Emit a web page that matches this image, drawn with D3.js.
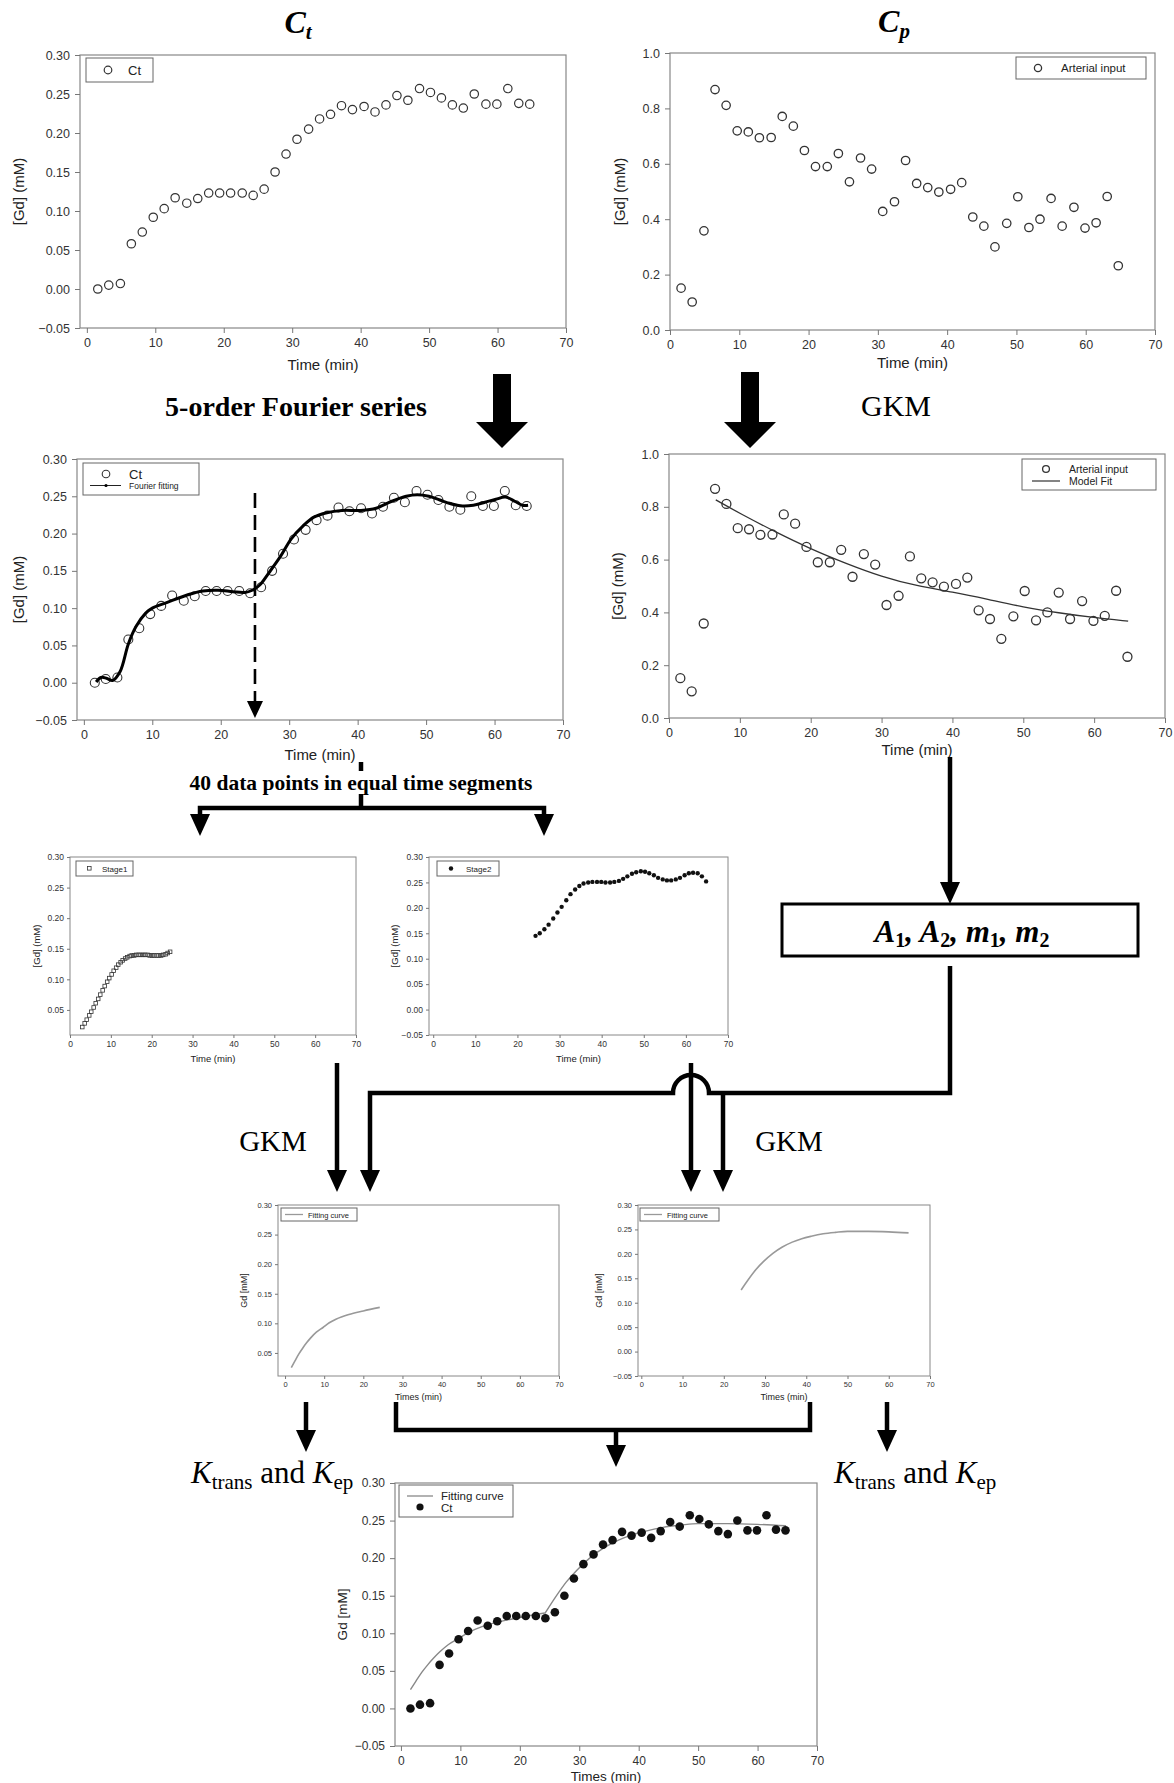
<!DOCTYPE html>
<html>
<head>
<meta charset="utf-8">
<title>Two-stage GKM fitting workflow</title>
<script src="https://d3js.org/d3.v7.min.js"></script>
<style>
  body { margin: 0; background: #fff; }
  svg text { font-family: "Liberation Sans", Arial, sans-serif; }
  svg .serif { font-family: "Liberation Serif", "Times New Roman", serif; }
</style>
</head>
<body>
<svg id="fig"></svg>
<script>
// ---- data ----
var timeMin = [1.6, 3.2, 4.9, 6.5, 8.1, 9.7, 11.3, 12.9, 14.6, 16.2, 17.8, 19.4, 21.0, 22.7, 24.3, 25.9, 27.5, 29.1, 30.7, 32.4,
               34.0, 35.6, 37.2, 38.8, 40.5, 42.1, 43.7, 45.3, 46.9, 48.6, 50.2, 51.8, 53.4, 55.0, 56.6, 58.3, 59.9, 61.5, 63.1, 64.7];
var ctVals = [0.000, 0.005, 0.007, 0.058, 0.073, 0.092, 0.103, 0.117, 0.110, 0.116, 0.123, 0.123, 0.123, 0.123, 0.120, 0.128, 0.150, 0.173, 0.192, 0.205,
              0.218, 0.224, 0.235, 0.230, 0.234, 0.227, 0.236, 0.248, 0.242, 0.257, 0.252, 0.245, 0.236, 0.232, 0.250, 0.237, 0.237, 0.257, 0.238, 0.237];
var cpVals = [0.151, 0.101, 0.358, 0.868, 0.811, 0.719, 0.715, 0.694, 0.695, 0.771, 0.736, 0.648, 0.590, 0.590, 0.637, 0.535, 0.621, 0.581, 0.428, 0.463,
              0.612, 0.529, 0.514, 0.498, 0.508, 0.532, 0.408, 0.375, 0.300, 0.385, 0.481, 0.370, 0.400, 0.475, 0.375, 0.443, 0.368, 0.387, 0.482, 0.232];

// 5-order Fourier fit of Ct
var fourierT = [1.8, 2.5, 3.3, 4.2, 5.3, 6.5, 7.6, 9.0, 10.0, 12.0, 15.2, 17.4, 19.6, 21.8, 23.5, 24.6, 25.7, 27.0, 28.7, 30.3,
                32.0, 33.6, 35.5, 37.7, 40.5, 42.7, 44.9, 47.1, 48.7, 50.4, 52.0, 53.6, 55.3, 56.9, 58.6, 60.2, 61.6, 63.0, 64.1, 64.9];
var fourierV = [0.001, 0.007, 0.006, 0.003, 0.015, 0.052, 0.075, 0.093, 0.100, 0.107, 0.118, 0.123, 0.124, 0.122, 0.121, 0.124, 0.131, 0.147, 0.169, 0.193,
                0.210, 0.222, 0.228, 0.231, 0.231, 0.234, 0.243, 0.250, 0.252, 0.250, 0.245, 0.240, 0.237, 0.238, 0.242, 0.246, 0.249, 0.243, 0.238, 0.238];

// model fit of arterial input
var modelT = [6.6, 10, 15, 20, 25, 30, 35, 40, 45, 50, 55, 60, 64.8];
var modelV = [0.826, 0.775, 0.705, 0.640, 0.585, 0.535, 0.500, 0.478, 0.450, 0.420, 0.398, 0.380, 0.367];

// 40 equally spaced samples of each stage
var stage1T = [3.0, 3.6, 4.1, 4.7, 5.2, 5.8, 6.3, 6.9, 7.4, 8.0, 8.5, 9.1, 9.6, 10.2, 10.7, 11.3, 11.8, 12.4, 12.9, 13.5,
               14.0, 14.6, 15.1, 15.7, 16.2, 16.8, 17.3, 17.9, 18.4, 19.0, 19.5, 20.1, 20.6, 21.2, 21.7, 22.3, 22.8, 23.4, 23.9, 24.5];
var stage1V = [0.022, 0.028, 0.034, 0.041, 0.047, 0.054, 0.061, 0.068, 0.075, 0.082, 0.089, 0.096, 0.102, 0.108, 0.114, 0.119, 0.124, 0.128, 0.131, 0.134,
               0.136, 0.138, 0.139, 0.139, 0.140, 0.140, 0.140, 0.140, 0.140, 0.140, 0.139, 0.139, 0.139, 0.139, 0.139, 0.139, 0.140, 0.141, 0.143, 0.145];
var stage2T = [24.3, 25.3, 26.4, 27.4, 28.5, 29.5, 30.5, 31.6, 32.6, 33.7, 34.7, 35.7, 36.8, 37.8, 38.9, 39.9, 40.9, 42.0, 43.0, 44.1,
               45.1, 46.1, 47.2, 48.2, 49.3, 50.3, 51.3, 52.4, 53.4, 54.5, 55.5, 56.5, 57.6, 58.6, 59.7, 60.7, 61.7, 62.8, 63.8, 64.8];
var stage2V = [0.145, 0.150, 0.158, 0.167, 0.179, 0.191, 0.202, 0.215, 0.227, 0.236, 0.243, 0.248, 0.250, 0.251, 0.251, 0.251, 0.250, 0.250, 0.251, 0.253,
               0.257, 0.262, 0.267, 0.270, 0.272, 0.271, 0.268, 0.264, 0.259, 0.256, 0.254, 0.254, 0.256, 0.259, 0.264, 0.268, 0.269, 0.268, 0.262, 0.252];

// GKM fitting curves of each stage
var fit1T = [1.6, 2.5, 3.5, 4.5, 5.5, 6.5, 8.0, 9.7, 11.3, 13.0, 16.3, 20.0, 24.2];
var fit1V = [0.025, 0.036, 0.048, 0.058, 0.067, 0.075, 0.085, 0.093, 0.101, 0.107, 0.115, 0.121, 0.127];
var fit2T = [24.2, 26.0, 27.8, 29.6, 31.9, 34.2, 36.6, 38.9, 41.2, 44.1, 47.1, 50.0, 55.0, 60.0, 64.8];
var fit2V = [0.126, 0.148, 0.168, 0.184, 0.201, 0.214, 0.224, 0.231, 0.236, 0.241, 0.244, 0.246, 0.246, 0.245, 0.243];

var timeTicks = [0, 10, 20, 30, 40, 50, 60, 70];
var gdTicks = [-0.05, 0.00, 0.05, 0.10, 0.15, 0.20, 0.25, 0.30];
var gdTicksPos = [0.05, 0.10, 0.15, 0.20, 0.25, 0.30];
var cpTicks = [0.0, 0.2, 0.4, 0.6, 0.8, 1.0];

var svg = d3.select("#fig").attr("width", 1174).attr("height", 1783);

function zip(t, v) { return t.map(function(d, i) { return { t: d, v: v[i] }; }); }

// one SigmaPlot-like panel
function panel(o) {
    var g = svg.append("g");
    var x = d3.scaleLinear().domain(o.xd).range([o.x0, o.x1]);
    var y = d3.scaleLinear().domain(o.yd).range([o.y1, o.y0]);

    g.append("rect")
        .attr("x", o.x0).attr("y", o.y0)
        .attr("width", o.x1 - o.x0).attr("height", o.y1 - o.y0)
        .attr("fill", "none").attr("stroke", "#888").attr("stroke-width", o.sw || 1.2);

    var ax = g.append("g").attr("transform", "translate(0," + o.y1 + ")")
        .call(d3.axisBottom(x).tickValues(timeTicks).tickFormat(d3.format("d"))
            .tickSize(o.tk).tickSizeOuter(0).tickPadding(o.pad));
    var ay = g.append("g").attr("transform", "translate(" + o.x0 + ",0)")
        .call(d3.axisLeft(y).tickValues(o.yt).tickFormat(d3.format(o.yf))
            .tickSize(o.tk).tickSizeOuter(0).tickPadding(o.pad));
    [ax, ay].forEach(function(a) {
        a.select(".domain").remove();
        a.selectAll("line").attr("stroke", "#777");
        a.selectAll("text").attr("font-size", o.fs).attr("fill", "#333")
            .attr("font-family", "Liberation Sans, Arial, sans-serif");
    });

    g.append("text").attr("x", (o.x0 + o.x1) / 2).attr("y", o.xly)
        .attr("text-anchor", "middle").attr("font-size", o.lfs).attr("fill", "#222").text(o.xl);
    g.append("text").attr("transform", "translate(" + o.ylx + "," + (o.y0 + o.y1) / 2 + ") rotate(-90)")
        .attr("text-anchor", "middle").attr("font-size", o.lfs).attr("fill", "#222").text(o.yl);

    return { g: g, x: x, y: y };
}

function legendBox(g, x0, y0, x1, y1) {
    g.append("rect").attr("x", x0).attr("y", y0).attr("width", x1 - x0).attr("height", y1 - y0)
        .attr("fill", "#fff").attr("stroke", "#666").attr("stroke-width", 1);
}
function legText(g, x, y, s, fs) {
    g.append("text").attr("x", x).attr("y", y).attr("font-size", fs).attr("fill", "#222").text(s);
}

function openDots(p, data, r, sw) {
    p.g.append("g").selectAll("circle").data(data).enter().append("circle")
        .attr("cx", function(d) { return p.x(d.t); })
        .attr("cy", function(d) { return p.y(d.v); })
        .attr("r", r).attr("fill", "none").attr("stroke", "#333").attr("stroke-width", sw);
}
function filledDots(p, data, r) {
    p.g.append("g").selectAll("circle").data(data).enter().append("circle")
        .attr("cx", function(d) { return p.x(d.t); })
        .attr("cy", function(d) { return p.y(d.v); })
        .attr("r", r).attr("fill", "#111");
}
function curve(p, data, col, w, kind) {
    var line = d3.line().x(function(d) { return p.x(d.t); }).y(function(d) { return p.y(d.v); })
        .curve(kind || d3.curveMonotoneX);
    p.g.append("path").datum(data).attr("d", line)
        .attr("fill", "none").attr("stroke", col).attr("stroke-width", w);
}

var ct = zip(timeMin, ctVals);
var cp = zip(timeMin, cpVals);

// ---- titles ----
function title(x, y, main, sub) {
    var t = svg.append("text").attr("class", "serif").attr("x", x).attr("y", y)
        .attr("text-anchor", "middle").attr("font-weight", "bold").attr("font-style", "italic");
    t.append("tspan").attr("font-size", 32).text(main);
    t.append("tspan").attr("font-size", 21).attr("dy", 6).text(sub);
}
title(298, 33, "C", "t");
title(894, 32, "C", "p");

// ---- panel 1: Ct ----
var p1 = panel({ x0: 80, x1: 566, y0: 55, y1: 328, xd: [-1, 70], yd: [-0.05, 0.30], yt: gdTicks, yf: ".2f",
    tk: 5, pad: 5, fs: 12.5, lfs: 15, xl: "Time (min)", xly: 370, yl: "[Gd] (mM)", ylx: 24 });
openDots(p1, ct, 4.2, 1.2);
legendBox(p1.g, 86, 58, 153, 82);
p1.g.append("circle").attr("cx", 108).attr("cy", 70).attr("r", 3.8).attr("fill", "none").attr("stroke", "#333").attr("stroke-width", 1.2);
legText(p1.g, 128, 75, "Ct", 13);

// ---- panel 2: Cp ----
var p2 = panel({ x0: 670, x1: 1155, y0: 53, y1: 330, xd: [0, 70], yd: [0, 1], yt: cpTicks, yf: ".1f",
    tk: 5, pad: 5, fs: 12.5, lfs: 15, xl: "Time (min)", xly: 368, yl: "[Gd] (mM)", ylx: 625 });
openDots(p2, cp, 4.2, 1.3);
legendBox(p2.g, 1016, 57, 1146, 79);
p2.g.append("circle").attr("cx", 1038).attr("cy", 68).attr("r", 3.6).attr("fill", "none").attr("stroke", "#333").attr("stroke-width", 1.3);
legText(p2.g, 1061, 72, "Arterial input", 11.5);

// ---- big arrows ----
function bigArrow(cx, y0, yh, yt) {
    svg.append("path").attr("fill", "#000")
        .attr("d", "M" + (cx - 9) + "," + y0 + "H" + (cx + 9) + "V" + yh + "H" + (cx + 26) +
            "L" + cx + "," + yt + "L" + (cx - 26) + "," + yh + "H" + (cx - 9) + "Z");
}
bigArrow(502, 374, 422, 448);
bigArrow(750, 372, 422, 448);

svg.append("text").attr("class", "serif").attr("x", 296).attr("y", 416).attr("text-anchor", "middle")
    .attr("font-size", 28).attr("font-weight", "bold").text("5-order Fourier series");
svg.append("text").attr("class", "serif").attr("x", 896).attr("y", 416).attr("text-anchor", "middle")
    .attr("font-size", 30).text("GKM");

// ---- panel 3: Fourier fitting ----
var p3 = panel({ x0: 77, x1: 563, y0: 459, y1: 720, xd: [-1, 70], yd: [-0.05, 0.30], yt: gdTicks, yf: ".2f",
    tk: 5, pad: 5, fs: 12.5, lfs: 15, xl: "Time (min)", xly: 760, yl: "[Gd] (mM)", ylx: 24 });
openDots(p3, ct, 4.5, 1.1);
curve(p3, zip(fourierT, fourierV), "#000", 3, d3.curveCatmullRom);
var xd = p3.x(25);
p3.g.append("line").attr("x1", xd).attr("x2", xd).attr("y1", 493).attr("y2", 703)
    .attr("stroke", "#000").attr("stroke-width", 2.6).attr("stroke-dasharray", "15,7");
p3.g.append("path").attr("fill", "#000")
    .attr("d", "M" + (xd - 8) + ",701H" + (xd + 8) + "L" + xd + ",718Z");
legendBox(p3.g, 83, 463, 199, 495);
p3.g.append("circle").attr("cx", 106).attr("cy", 474).attr("r", 3.8).attr("fill", "none").attr("stroke", "#333").attr("stroke-width", 1.1);
legText(p3.g, 129, 479, "Ct", 13);
p3.g.append("line").attr("x1", 90).attr("x2", 121).attr("y1", 485.5).attr("y2", 485.5).attr("stroke", "#222").attr("stroke-width", 1);
p3.g.append("circle").attr("cx", 106).attr("cy", 485.5).attr("r", 1.6).attr("fill", "#000");
legText(p3.g, 129, 489, "Fourier fitting", 8.5);

// ---- panel 4: GKM fit of arterial input ----
var p4 = panel({ x0: 669, x1: 1165, y0: 454, y1: 718, xd: [0, 70], yd: [0, 1], yt: cpTicks, yf: ".1f",
    tk: 5, pad: 5, fs: 12.5, lfs: 15, xl: "Time (min)", xly: 755, yl: "[Gd] (mM)", ylx: 623 });
openDots(p4, cp, 4.5, 1.3);
curve(p4, zip(modelT, modelV), "#333", 1.3, d3.curveBasis);
legendBox(p4.g, 1022, 459, 1156, 490);
p4.g.append("circle").attr("cx", 1046).attr("cy", 469).attr("r", 3.4).attr("fill", "none").attr("stroke", "#333").attr("stroke-width", 1.3);
legText(p4.g, 1069, 472.5, "Arterial input", 10.5);
p4.g.append("line").attr("x1", 1032).attr("x2", 1060).attr("y1", 481).attr("y2", 481).attr("stroke", "#333").attr("stroke-width", 1.2);
legText(p4.g, 1069, 484.5, "Model Fit", 10.5);

// ---- flow wires ----
function wire(d, w) {
    svg.append("path").attr("d", d).attr("fill", "none").attr("stroke", "#000")
        .attr("stroke-width", w || 4.5).attr("stroke-linejoin", "miter");
}
function head(cx, tip) {
    svg.append("path").attr("fill", "#000")
        .attr("d", "M" + (cx - 10) + "," + (tip - 22) + "H" + (cx + 10) + "L" + cx + "," + tip + "Z");
}

svg.append("text").attr("class", "serif").attr("x", 361).attr("y", 790).attr("text-anchor", "middle")
    .attr("font-size", 21.5).attr("font-weight", "bold").text("40 data points in equal time segments");
wire("M361,762V771");
wire("M361,794V808");
wire("M200,818V808H544V818");
head(200, 836);
head(544, 836);

wire("M950,757V885");
head(950, 904);
svg.append("rect").attr("x", 782).attr("y", 904).attr("width", 356).attr("height", 52)
    .attr("fill", "#fff").attr("stroke", "#000").attr("stroke-width", 3);
(function() {
    var t = svg.append("text").attr("class", "serif").attr("x", 962).attr("y", 942)
        .attr("text-anchor", "middle").attr("font-weight", "bold").attr("font-size", 31);
    [["A", "1", ", "], ["A", "2", ", "], ["m", "1", ", "], ["m", "2", ""]].forEach(function(p) {
        t.append("tspan").attr("font-style", "italic").attr("dy", 0).text(p[0]);
        t.append("tspan").attr("font-size", 20).attr("dy", 5).text(p[1]);
        t.append("tspan").attr("font-style", "italic").attr("dy", -5).text(p[2]);
    });
})();

wire("M950,966V1093H709A18,18 0 0 0 673,1093H370V1172");
head(370, 1192);
wire("M723,1093V1172");
head(723, 1192);
wire("M337,1063V1172");
head(337, 1192);
wire("M691,1063V1172");
head(691, 1192);

svg.append("text").attr("class", "serif").attr("x", 273).attr("y", 1151).attr("text-anchor", "middle")
    .attr("font-size", 29).text("GKM");
svg.append("text").attr("class", "serif").attr("x", 789).attr("y", 1151).attr("text-anchor", "middle")
    .attr("font-size", 29).text("GKM");

// ---- panel 5: Stage1 ----
var p5 = panel({ x0: 70, x1: 356, y0: 857, y1: 1035, xd: [0, 70], yd: [0.009, 0.30], yt: gdTicksPos, yf: ".2f",
    tk: 3, pad: 3, fs: 8.5, lfs: 9.5, xl: "Time (min)", xly: 1062, yl: "[Gd] (mM)", ylx: 40, sw: 1 });
p5.g.append("g").selectAll("rect").data(zip(stage1T, stage1V)).enter().append("rect")
    .attr("x", function(d) { return p5.x(d.t) - 1.8; })
    .attr("y", function(d) { return p5.y(d.v) - 1.8; })
    .attr("width", 3.6).attr("height", 3.6)
    .attr("fill", "none").attr("stroke", "#333").attr("stroke-width", 0.8);
legendBox(p5.g, 76, 861, 133, 876);
p5.g.append("rect").attr("x", 87.5).attr("y", 866.5).attr("width", 3.6).attr("height", 3.6)
    .attr("fill", "none").attr("stroke", "#333").attr("stroke-width", 0.8);
legText(p5.g, 102, 871.5, "Stage1", 8);

// ---- panel 6: Stage2 ----
var p6 = panel({ x0: 429, x1: 728, y0: 857, y1: 1035, xd: [-1, 70], yd: [-0.05, 0.30], yt: gdTicks, yf: ".2f",
    tk: 3, pad: 3, fs: 8.5, lfs: 9.5, xl: "Time (min)", xly: 1062, yl: "[Gd] (mM)", ylx: 398, sw: 1 });
filledDots(p6, zip(stage2T, stage2V), 2.2);
legendBox(p6.g, 437, 861, 499, 876);
p6.g.append("circle").attr("cx", 451).attr("cy", 868.5).attr("r", 2.2).attr("fill", "#111");
legText(p6.g, 466, 871.5, "Stage2", 8);

// ---- panel 7: stage 1 GKM fit ----
var p7 = panel({ x0: 278, x1: 559, y0: 1205, y1: 1376, xd: [-1.8, 70], yd: [0.011, 0.30], yt: gdTicksPos, yf: ".2f",
    tk: 3, pad: 3, fs: 7.5, lfs: 9, xl: "Times (min)", xly: 1400, yl: "Gd [mM]", ylx: 247, sw: 1 });
curve(p7, zip(fit1T, fit1V), "#999", 1.6);
legendBox(p7.g, 281, 1208, 357, 1221);
p7.g.append("line").attr("x1", 285).attr("x2", 303).attr("y1", 1214.5).attr("y2", 1214.5).attr("stroke", "#999").attr("stroke-width", 1.3);
legText(p7.g, 308, 1217.5, "Fitting curve", 7.5);

// ---- panel 8: stage 2 GKM fit ----
var p8 = panel({ x0: 638, x1: 930, y0: 1205, y1: 1376, xd: [-0.8, 70], yd: [-0.05, 0.30], yt: gdTicks, yf: ".2f",
    tk: 3, pad: 3, fs: 7.5, lfs: 9, xl: "Times (min)", xly: 1400, yl: "Gd [mM]", ylx: 602, sw: 1 });
curve(p8, zip(fit2T, fit2V), "#999", 1.6);
legendBox(p8.g, 640, 1208, 719, 1221);
p8.g.append("line").attr("x1", 644).attr("x2", 662).attr("y1", 1214.5).attr("y2", 1214.5).attr("stroke", "#999").attr("stroke-width", 1.3);
legText(p8.g, 667, 1217.5, "Fitting curve", 7.5);

// ---- output wires ----
wire("M306,1402V1432");
head(306, 1452);
wire("M887,1402V1432");
head(887, 1452);
wire("M396,1402V1430H810V1402");
wire("M616,1430V1447");
head(616, 1467);

function kText(x, y) {
    var t = svg.append("text").attr("class", "serif").attr("x", x).attr("y", y).attr("font-size", 31);
    t.append("tspan").attr("font-style", "italic").text("K");
    t.append("tspan").attr("font-size", 21).attr("dy", 6).text("trans");
    t.append("tspan").attr("dy", -6).text(" and ");
    t.append("tspan").attr("font-style", "italic").text("K");
    t.append("tspan").attr("font-size", 21).attr("dy", 6).text("ep");
}
kText(191, 1483);
kText(834, 1483);

// ---- panel 9: combined fit ----
var p9 = panel({ x0: 395, x1: 817, y0: 1483, y1: 1746, xd: [-1, 70], yd: [-0.05, 0.30], yt: gdTicks, yf: ".2f",
    tk: 5, pad: 5, fs: 12, lfs: 13.5, xl: "Times (min)", xly: 1781, yl: "Gd [mM]", ylx: 347 });
curve(p9, zip(fit1T, fit1V), "#888", 1.4);
curve(p9, zip(fit2T, fit2V), "#888", 1.4);
filledDots(p9, ct, 4.3);
legendBox(p9.g, 399, 1485, 513, 1517);
p9.g.append("line").attr("x1", 407).attr("x2", 433).attr("y1", 1496).attr("y2", 1496).attr("stroke", "#888").attr("stroke-width", 1.3);
legText(p9.g, 441, 1500, "Fitting curve", 11.5);
p9.g.append("circle").attr("cx", 420).attr("cy", 1507).attr("r", 3.6).attr("fill", "#111");
legText(p9.g, 441, 1511.5, "Ct", 11.5);
</script>
</body>
</html>
